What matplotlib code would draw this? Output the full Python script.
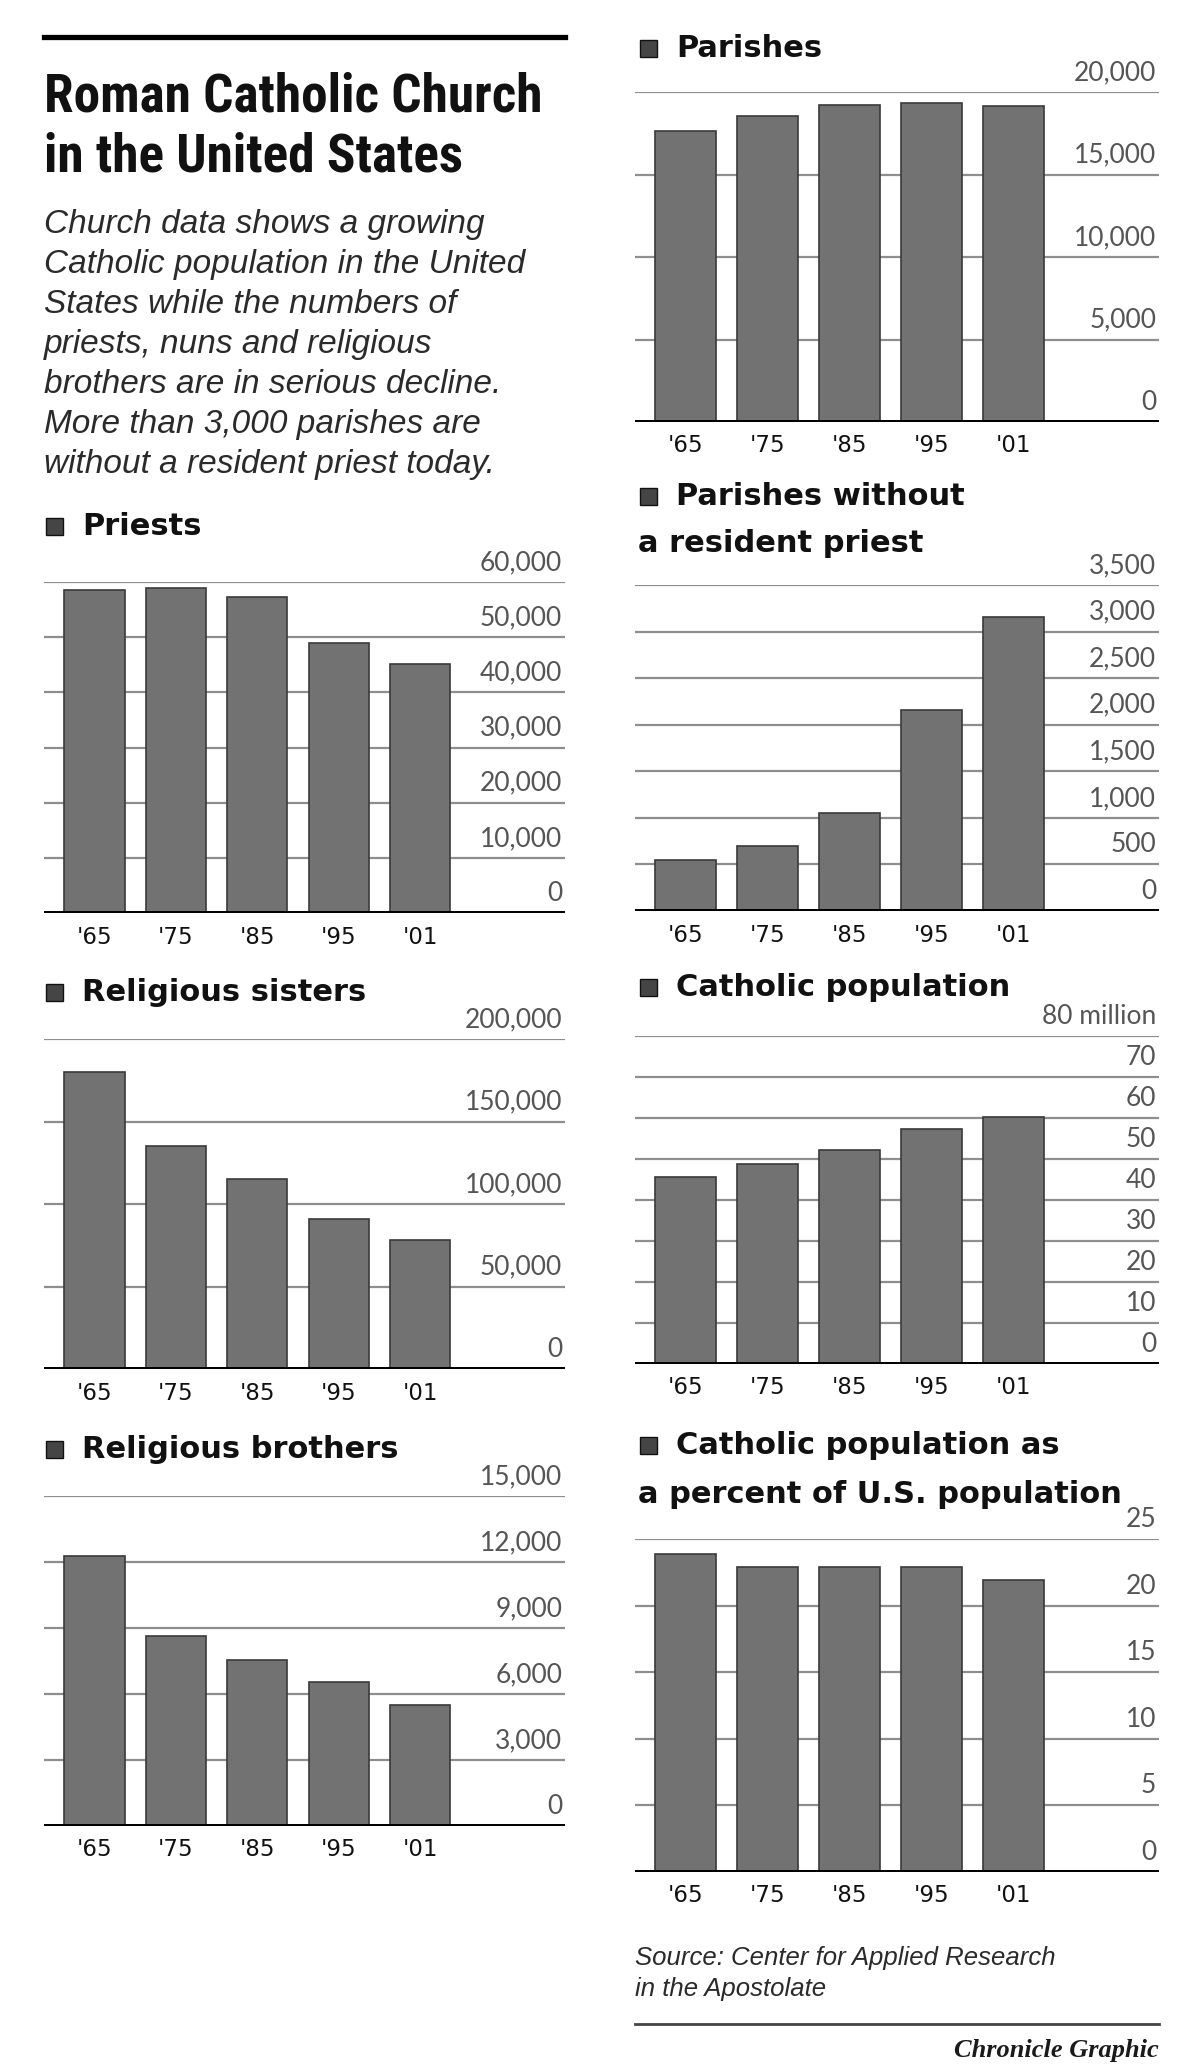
import matplotlib
matplotlib.use("Agg")
import matplotlib.pyplot as plt
from matplotlib.patches import Rectangle
from matplotlib import font_manager

W, H = 1200, 2069

years = ["'65", "'75", "'85", "'95", "'01"]

priests = [58600, 58900, 57300, 49000, 45200]
priests_ticks = [0, 10000, 20000, 30000, 40000, 50000, 60000]
priests_labels = ["0", "10,000", "20,000", "30,000", "40,000", "50,000", "60,000"]

sisters = [180000, 135200, 115400, 90800, 78000]
sisters_ticks = [0, 50000, 100000, 150000, 200000]
sisters_labels = ["0", "50,000", "100,000", "150,000", "200,000"]

brothers = [12270, 8625, 7545, 6535, 5500]
brothers_ticks = [0, 3000, 6000, 9000, 12000, 15000]
brothers_labels = ["0", "3,000", "6,000", "9,000", "12,000", "15,000"]

parishes = [17640, 18520, 19240, 19330, 19150]
parishes_ticks = [0, 5000, 10000, 15000, 20000]
parishes_labels = ["0", "5,000", "10,000", "15,000", "20,000"]

no_priest = [549, 702, 1051, 2161, 3157]
no_priest_ticks = [0, 500, 1000, 1500, 2000, 2500, 3000, 3500]
no_priest_labels = ["0", "500", "1,000", "1,500", "2,000", "2,500", "3,000", "3,500"]

population = [45.6, 48.7, 52.3, 57.4, 60.2]
population_ticks = [0, 10, 20, 30, 40, 50, 60, 70, 80]
population_labels = ["0", "10", "20", "30", "40", "50", "60", "70", "80 million"]

percent = [23.9, 22.9, 22.9, 22.9, 21.9]
percent_ticks = [0, 5, 10, 15, 20, 25]
percent_labels = ["0", "5", "10", "15", "20", "25"]

intro = [
    "Church data shows a growing",
    "Catholic population in the United",
    "States while the numbers of",
    "priests, nuns and religious",
    "brothers are in serious decline.",
    "More than 3,000 parishes are",
    "without a resident priest today.",
]

# pick a narrow bold face for the headline if one is installed
names = {f.name for f in font_manager.fontManager.ttflist}
title_font = "Liberation Sans"
for n in ["Roboto Condensed", "Liberation Sans Narrow", "DejaVu Sans Condensed", "Open Sans Condensed"]:
    if n in names:
        title_font = n
        break

fig = plt.figure(figsize=(W / 100, H / 100), dpi=100)
fig.patch.set_facecolor("white")


def fy(y):
    return 1 - y / H


def header(lines, x, y0, dy=47):
    # small square bullet + bold heading
    fig.patches.append(Rectangle((x / W, fy(y0)), 17 / W, 17 / H, transform=fig.transFigure,
                                 facecolor="#454545", edgecolor="#111111", lw=1))
    for i, t in enumerate(lines):
        tx = x + 36 if i == 0 else x - 2
        fig.text(tx / W, fy(y0 + i * dy), t, fontsize=22, fontweight="bold",
                 family="DejaVu Sans", color="#111111", va="baseline", ha="left")


def chart(x0, x1, top, base, vals, ticks, labels):
    ax = fig.add_axes([x0 / W, fy(base), (x1 - x0) / W, (base - top) / H])
    xs = range(len(vals))
    ax.bar(xs, vals, width=0.74, color="#727272", edgecolor="#3a3a3a", linewidth=1.2, zorder=2)
    for t in ticks[1:]:
        ax.axhline(t, color="#8e8e8e", lw=1.6, zorder=1)
    ax.axhline(0, color="black", lw=3.6, zorder=3)
    ax.set_ylim(0, ticks[-1])
    ax.set_xlim(-0.62, 5.78)
    ax.axis("off")
    for t, lab in zip(ticks, labels):
        ax.annotate(lab, xy=(1, t), xycoords=("axes fraction", "data"), xytext=(-2, 5),
                    textcoords="offset points", ha="right", va="bottom",
                    fontsize=19, color="#555555", family="Lato",
                    annotation_clip=False)
    for i, lab in enumerate(years):
        ax.annotate(lab, xy=(i, 0), xycoords="data", xytext=(0, -9),
                    textcoords="offset points", ha="center", va="top",
                    fontsize=16.5, color="#111111", family="DejaVu Sans",
                    annotation_clip=False)
    return ax


# title block
fig.add_artist(plt.Line2D([44 / W, 565 / W], [fy(37), fy(37)], color="black", lw=3.8,
                          transform=fig.transFigure))
titles = []
for i, t in enumerate(["Roman Catholic Church", "in the United States"]):
    titles.append(fig.text(44 / W, fy(111 + i * 61), t, fontsize=40, fontweight="bold",
                           family=title_font, color="#111111", va="baseline"))
# shrink the headline so the first line spans the column like in the print version
fig.canvas.draw()
wpx = titles[0].get_window_extent().width
size = min(44, 40 * 498 / wpx)
for t in titles:
    t.set_fontsize(size)

for i, t in enumerate(intro):
    fig.text(44 / W, fy(233 + i * 40), t, fontsize=24, style="italic",
             family="Liberation Sans", color="#2a2a2a", va="baseline")

# left column
LX0, LX1 = 44, 565
header(["Priests"], 46, 535)
chart(LX0, LX1, 582, 913, priests, priests_ticks, priests_labels)
header(["Religious sisters"], 46, 1001)
chart(LX0, LX1, 1039, 1369, sisters, sisters_ticks, sisters_labels)
header(["Religious brothers"], 46, 1458)
chart(LX0, LX1, 1496, 1826, brothers, brothers_ticks, brothers_labels)

# right column
RX0, RX1 = 635, 1159
header(["Parishes"], 640, 57)
chart(RX0, RX1, 92, 422, parishes, parishes_ticks, parishes_labels)
header(["Parishes without", "a resident priest"], 640, 505)
chart(RX0, RX1, 585, 911, no_priest, no_priest_ticks, no_priest_labels)
header(["Catholic population"], 640, 996)
chart(RX0, RX1, 1036, 1364, population, population_ticks, population_labels)
header(["Catholic population as", "a percent of U.S. population"], 640, 1454, dy=49)
chart(RX0, RX1, 1539, 1872, percent, percent_ticks, percent_labels)

# source and credit
fig.text(RX0 / W, fy(1965), "Source: Center for Applied Research", fontsize=18.5, style="italic",
         family="Liberation Sans", color="#2a2a2a", va="baseline")
fig.text(RX0 / W, fy(1996), "in the Apostolate", fontsize=18.5, style="italic",
         family="Liberation Sans", color="#2a2a2a", va="baseline")
fig.add_artist(plt.Line2D([RX0 / W, RX1 / W], [fy(2024), fy(2024)], color="#444444", lw=2,
                          transform=fig.transFigure))
fig.text(RX1 / W, fy(2057), "Chronicle Graphic", fontsize=19, style="italic", fontweight="bold",
         family="Liberation Serif", color="#1a1a1a", ha="right", va="baseline")

fig.savefig("out.png", dpi=100, facecolor="white")
